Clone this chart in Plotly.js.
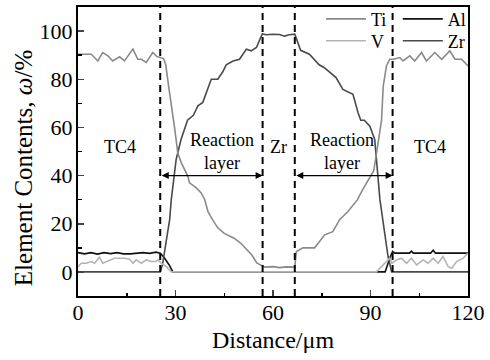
<!DOCTYPE html>
<html>
<head>
<meta charset="utf-8">
<script src="https://cdn.plot.ly/plotly-3.0.1.min.js"></script>
<style>html,body{margin:0;padding:0;background:#fff;}#chart{width:490px;height:360px;}</style>
</head>
<body>
<div id="chart"></div>
<script>
// ---- data ----
const tiX = [0, 4.1, 6.1, 7.6, 9.2, 10.7, 12.8, 14.3, 16.9, 18.4, 19.5, 21, 23, 24.3, 26.3, 27, 28, 29.2, 29.7, 30.7, 31.8, 33.8, 34.3, 36.4, 37.9, 39, 40, 41.4, 43, 45, 48, 50, 52, 53.5, 55, 56.5, 57.5, 60, 62, 64, 66.7, 67.2, 69.2, 72.8, 75.9, 78.4, 80.5, 83, 86, 87.5, 89.8, 91, 92.5, 93.4, 93.9, 94.9, 95.9, 97, 99, 100, 102.1, 103.6, 105.7, 107.2, 109.8, 111.9, 114.4, 116, 118, 120];
const tiY = [90.4, 90.4, 87.6, 91.1, 89.7, 87.6, 89.3, 87.6, 92.5, 88.3, 88.3, 87, 91.1, 89.4, 88.6, 86, 76, 63, 60, 49.4, 45.3, 39.7, 37, 34.9, 32.8, 30, 25, 21.7, 18.3, 16, 14, 12, 9, 7, 3.7, 2.5, 2, 2.2, 1.8, 2.1, 2, 8.5, 10, 10, 15.4, 16.7, 21.7, 25, 30, 34, 39, 42, 55, 63, 77, 85.5, 88.3, 88.3, 89, 87.6, 89.7, 87.6, 91.1, 87.6, 91.1, 88.3, 91.8, 88.3, 88.3, 85.5];

const alX = [0, 2, 4, 6, 8, 10, 12, 14, 16, 18, 20, 22, 24, 25.3, 26.5, 28, 29.2, 60, 94.5, 96, 96.8, 97.5, 102, 102.6, 103.2, 108.5, 109.3, 110, 120];
const alY = [8, 7.5, 8, 7.4, 8, 7.6, 8, 7.5, 7.5, 7.6, 8, 7.7, 8.2, 7.8, 6, 3, 0, 0, 0, 6, 8.5, 7.8, 7.8, 8.6, 7.8, 7.8, 9, 7.8, 7.8];

const vX = [0, 1, 2.5, 4.1, 5.1, 6.6, 7.6, 8.7, 9.7, 11.2, 12.8, 14.3, 15.9, 16.9, 17.9, 19.5, 21, 22.5, 23.9, 24.6, 25.6, 27.2, 28.7, 60, 91.8, 95.9, 96.6, 98, 99.5, 101.1, 102.6, 104.2, 106.2, 107.7, 109.3, 110.8, 112.3, 113.9, 115, 116.5, 118.5, 120];
const vY = [2.2, 3.6, 3.6, 4.3, 3.6, 6.1, 3.6, 4.3, 5, 5.7, 5.7, 5.7, 5.3, 3.6, 5, 3.6, 5, 4.3, 4.3, 5, 3.6, 2.2, 0, 0, 0, 5.7, 3.6, 5, 5.7, 3.6, 5.7, 2.9, 5, 3.6, 5.7, 3.6, 6.4, 2.2, 1.5, 4.3, 5.7, 7.8];

const zrX = [0, 25.3, 26, 27, 28.2, 28.7, 30.2, 31.7, 33.7, 35.5, 36.9, 38.4, 40, 41, 43, 44.5, 45.6, 47.7, 49.7, 51.8, 53.3, 54.9, 56.7, 58, 60, 62, 63.5, 65, 66.7, 68.5, 71.2, 74.2, 75.7, 79.4, 81.5, 84.6, 86.2, 87, 88.1, 89.8, 91.3, 92.9, 95.4, 96.5, 120];
const zrY = [0, 0, 3, 12, 21.7, 30, 46.7, 55, 63, 65, 69, 70.4, 76, 80, 80, 83, 86, 87.6, 88.3, 92.5, 91.8, 93.2, 98.8, 98.5, 98.7, 98.6, 97.9, 98.5, 98.7, 92, 90.4, 86, 84.9, 80.7, 75.8, 73.75, 66, 63, 63, 60.5, 55, 30, 6.4, 0, 0];

const boundaries = [25.3, 56.8, 66.7, 96.8];
const regionLabels = ['TC4', 'Reaction<br>layer', 'Zr', 'Reaction<br>layer', 'TC4'];
const regionLabelX = [12.8, 44.2, 61.7, 81.1, 108.3];
const regionLabelY = [52, 50, 52, 50, 52];
const arrowY = 40;

const xTicks = [0, 30, 60, 90, 120];
const yTicks = [0, 20, 40, 60, 80, 100];

// ---- chart ----
const font = 'Liberation Serif, Times New Roman, serif';
const traces = [
  {x: alX, y: alY, name: 'Al', mode: 'lines', line: {color: '#111111', width: 1.6}, legend: 'legend2'},
  {x: zrX, y: zrY, name: 'Zr', mode: 'lines', line: {color: '#4a4a4a', width: 1.6}, legend: 'legend4'},
  {x: tiX, y: tiY, name: 'Ti', mode: 'lines', line: {color: '#8a8a8a', width: 1.6}, legend: 'legend'},
  {x: vX, y: vY, name: 'V', mode: 'lines', line: {color: '#b4b4b4', width: 1.6}, legend: 'legend3'}
];

const shapes = boundaries.map(b => ({
  type: 'line', xref: 'x', yref: 'paper', x0: b, x1: b, y0: 0, y1: 1,
  line: {color: '#000', width: 2, dash: '7px,5px'}
}));

const annotations = regionLabels.map((t, i) => ({
  x: regionLabelX[i], y: regionLabelY[i], xref: 'x', yref: 'y', text: t,
  showarrow: false, font: {family: font, size: 18, color: '#000'}
}));
[[boundaries[0], boundaries[1]], [boundaries[2], boundaries[3]]].forEach(p => {
  annotations.push({
    x: p[1], y: arrowY, ax: p[0], ay: arrowY, xref: 'x', yref: 'y', axref: 'x', ayref: 'y',
    text: '', showarrow: true, arrowside: 'end+start', arrowhead: 2, startarrowhead: 2,
    arrowsize: 1, startarrowsize: 1, arrowwidth: 1.4, arrowcolor: '#000', standoff: 0, startstandoff: 0
  });
});
// y-axis title (rotated text; in the reference it sits a little below the axis centre)
annotations.push({
  xref: 'paper', yref: 'paper', x: -0.138, y: 0.443, xanchor: 'center', yanchor: 'middle',
  text: 'Element Contents, <i>ω</i>/%', textangle: -90, showarrow: false,
  font: {family: font, size: 25, color: '#000'}
});

const legendBase = {
  orientation: 'v', xanchor: 'left', yanchor: 'middle',
  font: {family: font, size: 18, color: '#000'}, bgcolor: 'rgba(0,0,0,0)',
  borderwidth: 0, itemwidth: 40, tracegroupgap: 0
};

const layout = {
  width: 490, height: 360,
  margin: {l: 78, r: 22, t: 7, b: 64, autoexpand: false},
  paper_bgcolor: '#fff', plot_bgcolor: '#fff',
  font: {family: font, color: '#000'},
  showlegend: true,
  legend: Object.assign({}, legendBase, {x: 0.623, y: 0.958}),
  legend2: Object.assign({}, legendBase, {x: 0.82, y: 0.958}),
  legend3: Object.assign({}, legendBase, {x: 0.623, y: 0.882}),
  legend4: Object.assign({}, legendBase, {x: 0.82, y: 0.882}),
  xaxis: {
    range: [0, 120], tickvals: xTicks, ticks: 'inside', ticklen: 6, tickwidth: 1.5,
    minor: {dtick: 15, ticks: 'inside', ticklen: 3.5, tickwidth: 1.5, tickcolor: '#000'},
    showline: true, linewidth: 2, linecolor: '#000', mirror: true,
    showgrid: false, zeroline: false, ticklabelstandoff: -4, automargin: false,
    tickfont: {family: font, size: 22, color: '#000'},
    title: {text: 'Distance/μm', font: {family: font, size: 24, color: '#000'}, standoff: 7}
  },
  yaxis: {
    range: [-10, 110], tickvals: yTicks, ticks: 'inside', ticklen: 6, tickwidth: 1.5,
    minor: {dtick: 10, ticks: 'inside', ticklen: 3.5, tickwidth: 1.5, tickcolor: '#000'},
    showline: true, linewidth: 2, linecolor: '#000', mirror: true,
    showgrid: false, zeroline: false, ticklabelstandoff: -1, automargin: false,
    tickfont: {family: font, size: 22, color: '#000'}
  },
  shapes: shapes,
  annotations: annotations
};

Plotly.newPlot('chart', traces, layout, {staticPlot: true, displayModeBar: false});
</script>
</body>
</html>
